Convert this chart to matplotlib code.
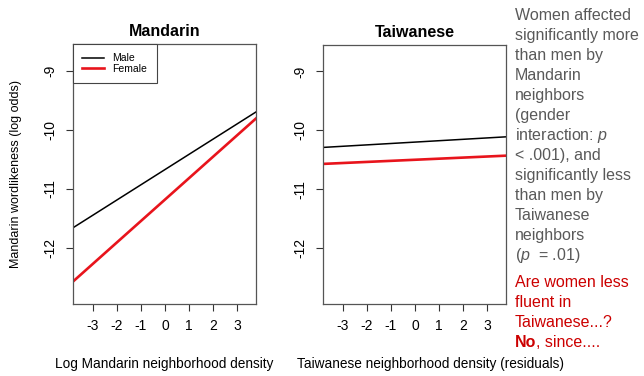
import matplotlib.pyplot as plt

plt.rcParams['font.family'] = ['Liberation Sans', 'DejaVu Sans']
plt.rcParams['axes.unicode_minus'] = False
plt.rcParams['mathtext.fontset'] = 'custom'
plt.rcParams['mathtext.rm'] = 'Liberation Sans'
plt.rcParams['mathtext.it'] = 'Liberation Sans:italic'

# endpoints of the fitted lines (x = neighborhood density)
density = [-3.82, 3.78]
mandarin_male = [-11.66, -9.70]
mandarin_female = [-12.57, -9.81]
taiwanese_male = [-10.29, -10.11]
taiwanese_female = [-10.57, -10.43]

x_ticks = [-3, -2, -1, 0, 1, 2, 3]
y_ticks = [-12, -11, -10, -9]

gray_lines = ['Women affected', 'significantly more', 'than men by', 'Mandarin',
              'neighbors', '(gender', 'interaction: $p$', '< .001), and',
              'significantly less', 'than men by', 'Taiwanese', 'neighbors',
              '($p$  = .01)']
red_lines = ['Are women less', 'fluent in', 'Taiwanese...?']

W, H = 644, 376
fig = plt.figure(figsize=(W / 100, H / 100), dpi=100)


def px_axes(left, top, right, bottom):
    return fig.add_axes([left / W, 1 - bottom / H, (right - left) / W, (bottom - top) / H])


def style(ax, title, xlabel, label_x):
    ax.set_xlim(-3.82, 3.78)
    ax.set_ylim(-12.95, -8.55)
    ax.set_xticks(x_ticks)
    ax.set_yticks(y_ticks)
    ax.tick_params(direction='out', length=5, width=0.8, colors='#333333',
                   labelsize=10, labelcolor='black', pad=6)
    for lab in ax.get_yticklabels():
        lab.set_rotation(90)
        lab.set_va('center')
    for s in ax.spines.values():
        s.set_color('#555555')
        s.set_linewidth(0.9)
    ax.set_title(title, fontsize=11.5, fontweight='bold', pad=6)
    ax.set_xlabel(xlabel, fontsize=9.8)
    ax.xaxis.set_label_coords(label_x, -0.205)


ax1 = px_axes(73, 44, 256, 304)
ax1.plot(density, mandarin_male, color='black', lw=1.1, label='Male')
ax1.plot(density, mandarin_female, color='#e8141c', lw=1.9, label='Female')
style(ax1, 'Mandarin', 'Log Mandarin neighborhood density', 0.5)
ax1.set_ylabel('Mandarin wordlikeness (log odds)', fontsize=9)
ax1.yaxis.set_label_coords(-0.28, 0.5)
leg = ax1.legend(loc='upper left', bbox_to_anchor=(0, 1), borderaxespad=0,
                 fontsize=7.5, fancybox=False, framealpha=1, handlelength=2.1,
                 borderpad=0.9, labelspacing=0.05, handletextpad=0.8)
leg.get_frame().set_edgecolor('#444444')
leg.get_frame().set_linewidth(0.8)

ax2 = px_axes(323, 45, 506, 304)
ax2.plot(density, taiwanese_male, color='black', lw=1.1)
ax2.plot(density, taiwanese_female, color='#e8141c', lw=1.9)
style(ax2, 'Taiwanese', 'Taiwanese neighborhood density (residuals)', 0.585)

# side note text, one line at a time
fs = 11.5
for i, line in enumerate(gray_lines):
    fig.text(515 / W, 1 - (20 + 20 * i) / H, line, fontsize=fs, color='#595959',
             va='baseline', ha='left')
for i, line in enumerate(red_lines):
    fig.text(515 / W, 1 - (287 + 20 * i) / H, line, fontsize=fs, color='#cc0000',
             va='baseline', ha='left')
last_y = 1 - (287 + 20 * len(red_lines)) / H
no = fig.text(515 / W, last_y, 'No', fontsize=fs, color='#cc0000',
              fontweight='bold', va='baseline', ha='left')
fig.canvas.draw()
bb = no.get_window_extent()
fig.text(bb.x1 / W, last_y, ', since....', fontsize=fs, color='#cc0000',
         va='baseline', ha='left')

fig.savefig('out.png', dpi=100)
